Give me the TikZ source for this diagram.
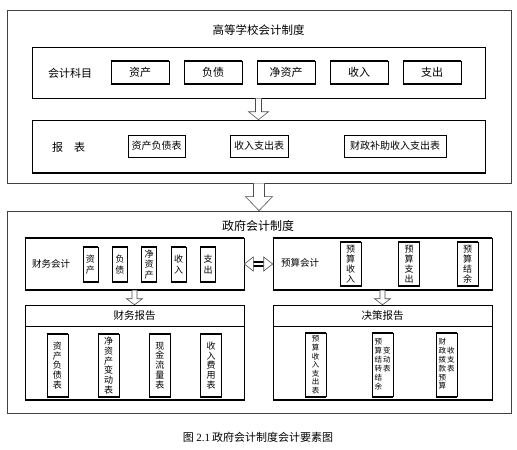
\documentclass[tikz,border=0pt]{standalone}
\usepackage{fontspec}
\newfontfamily\cjk{Noto Sans CJK SC}
\newfontfamily\lat{Liberation Serif}
\usetikzlibrary{calc,arrows.meta,positioning}

\tikzset{
  frame/.style={draw=black!75, line width=0.7pt, inner sep=0pt},
  panel/.style={draw, line width=0.6pt, inner sep=0pt},
  bars/.style={append after command={(\tikzlastnode.north west) edge[line width=2pt] (\tikzlastnode.north east)
      (\tikzlastnode.south west) edge[line width=2pt] (\tikzlastnode.south east)}},
  lowbar/.style={append after command={(\tikzlastnode.south west) edge[line width=2pt] (\tikzlastnode.south east)}},
  lbl/.style={font=\cjk\fontsize{11}{13}\selectfont},
  small/.style={font=\cjk\fontsize{9.5}{11}\selectfont},
  item/.style={draw, line width=0.5pt, inner sep=0pt, minimum width=58, minimum height=23, bars, lbl},
  sheet/.style={draw, line width=0.5pt, inner sep=0pt, minimum height=22, font=\cjk\fontsize{10}{12}\selectfont},
  col/.style={draw, line width=0.5pt, inner sep=0pt, align=center, bars, font=\cjk\fontsize{9}{10.5}\selectfont},
  tinycol/.style={col, minimum width=21, minimum height=63, font=\cjk\fontsize{7.5}{8.6}\selectfont},
  hollow/.style={draw=black!70, fill=white, line width=0.6pt},
}

% hollow block arrow: from, to, shaft half width, head half width, head length
\newcommand{\hollowarrow}[5]{%
  \draw[hollow] let \p1=(#1), \p2=(#2) in
    (\x1-#3pt,\y1) -- (\x1-#3pt,\y2+#5pt) -- (\x1-#4pt,\y2+#5pt) -- (\x1,\y2)
    -- (\x1+#4pt,\y2+#5pt) -- (\x1+#3pt,\y2+#5pt) -- (\x1+#3pt,\y1);
}

\begin{document}
\begin{tikzpicture}[x=1pt,y=-1pt]
\useasboundingbox (0,0) rectangle (517,450);

% university system
\node[frame, minimum width=504, minimum height=173] (school) at (259,96.5) {};
\node[font=\cjk\fontsize{11.5}{13}\selectfont] (schooltitle) at (258.5,30) {高等学校会计制度};
\node[panel, minimum width=453, minimum height=51] (subj) at (258.5,72.5) {};
\node[lbl] (subjlbl) at (70,73) {会计科目};
\foreach \name/\txt [count=\i] in {a/资产,b/负债,c/净资产,d/收入,e/支出}
  \node[item] (subj\name) at (67+73*\i,72.5) {\txt};

\node[panel, lowbar, minimum width=453, minimum height=53] (rep) at (258.5,146.5) {};
\node[lbl] (replbl) at (68.5,147) {报\quad 表};
\node[sheet, minimum width=57] (repa) at (156.5,146) {资产负债表};
\node[sheet, minimum width=58] (repb) at (259,146) {收入支出表};
\node[sheet, minimum width=102] (repc) at (395,146) {财政补助收入支出表};

\hollowarrow{subj.south}{rep.north}{3}{10}{8}

% government system
\node[frame, minimum width=504, minimum height=202] (gov) at (259,312) {};
\node[font=\cjk\fontsize{12}{14}\selectfont] (govtitle) at (258,226) {政府会计制度};

\hollowarrow{school.south}{gov.north}{5.5}{13.5}{14}

% financial accounting
\node[panel, bars, minimum width=219, minimum height=52] (fin) at (134.5,264) {};
\node[small] (finlbl) at (51,264) {财务会计};
\foreach \name/\txt [count=\i] in {a/{资\\产},b/{负\\债},c/{净\\资\\产},d/{收\\入},e/{支\\出}}
  \node[col, minimum width=15, minimum height=35] (fin\name) at (61+29.4*\i,264.5) {\txt};

% budget accounting
\node[panel, bars, minimum width=219, minimum height=52] (bud) at (382.5,264) {};
\node[small] (budlbl) at (300,263) {预算会计};
\foreach \name/\txt [count=\i] in {a/{预\\算\\收\\入},b/{预\\算\\支\\出},c/{预\\算\\结\\余}}
  \node[col, minimum width=21, minimum height=44, font=\cjk\fontsize{9}{10}\selectfont] (bud\name) at (292+58.5*\i,264) {\txt};

% two-way link
\draw[line width=1.3pt] let \p1=(fin.east), \p2=(bud.west) in
  (\x1+6pt,\y1+2pt) -- (\x2-6pt,\y2+2pt) (\x1+6pt,\y1-2pt) -- (\x2-6pt,\y2-2pt);
\draw[hollow] let \p1=(fin.east), \p2=(bud.west) in
  (\x1,\y1) -- (\x1+9pt,\y1+7pt) -- (\x1+9pt,\y1-7pt) -- cycle
  (\x2,\y2) -- (\x2-9pt,\y2+7pt) -- (\x2-9pt,\y2-7pt) -- cycle;

% financial report
\node[panel, lowbar, minimum width=219, minimum height=95] (finrep) at (134.5,352.5) {};
\draw[line width=0.6pt] ($(finrep.north west)+(0,22)$) -- ($(finrep.north east)+(0,22)$);
\node[font=\cjk\fontsize{10.5}{12}\selectfont] (finreplbl) at (134.5,316) {财务报告};
\foreach \name/\txt [count=\i] in {a/{资\\产\\负\\债\\表},b/{净\\资\\产\\变\\动\\表},c/{现\\金\\流\\量\\表},d/{收\\入\\费\\用\\表}}
  \node[col, minimum width=21, minimum height=63, font=\cjk\fontsize{9}{9.8}\selectfont] (finrep\name) at (6+51.3*\i,365.5) {\txt};

\hollowarrow{fin.south}{finrep.north}{2.5}{8}{6}

% decision report
\node[panel, lowbar, minimum width=219, minimum height=95] (budrep) at (382.5,352.5) {};
\draw[line width=0.6pt] ($(budrep.north west)+(0,22)$) -- ($(budrep.north east)+(0,22)$);
\node[font=\cjk\fontsize{10.5}{12}\selectfont] (budreplbl) at (382.5,316) {决策报告};
\node[tinycol] (budrepa) at (315.5,365) {预\\算\\收\\入\\支\\出\\表};
\node[tinycol] (budrepb) at (382.5,365)
  {\begin{tabular}{@{}c@{\hspace{1pt}}c@{}}预&\\算&变\\结&动\\转&表\\结&\\余&\end{tabular}};
\node[tinycol] (budrepc) at (446.5,365)
  {\begin{tabular}{@{}c@{\hspace{1pt}}c@{}}财&\\政&收\\拨&支\\款&表\\预&\\算&\end{tabular}};

\hollowarrow{bud.south}{budrep.north}{2.5}{8}{6}

% caption
\node[lbl] (caption) at (258,437) {图 {\lat 2.1}\,政府会计制度会计要素图};
\end{tikzpicture}
\end{document}
